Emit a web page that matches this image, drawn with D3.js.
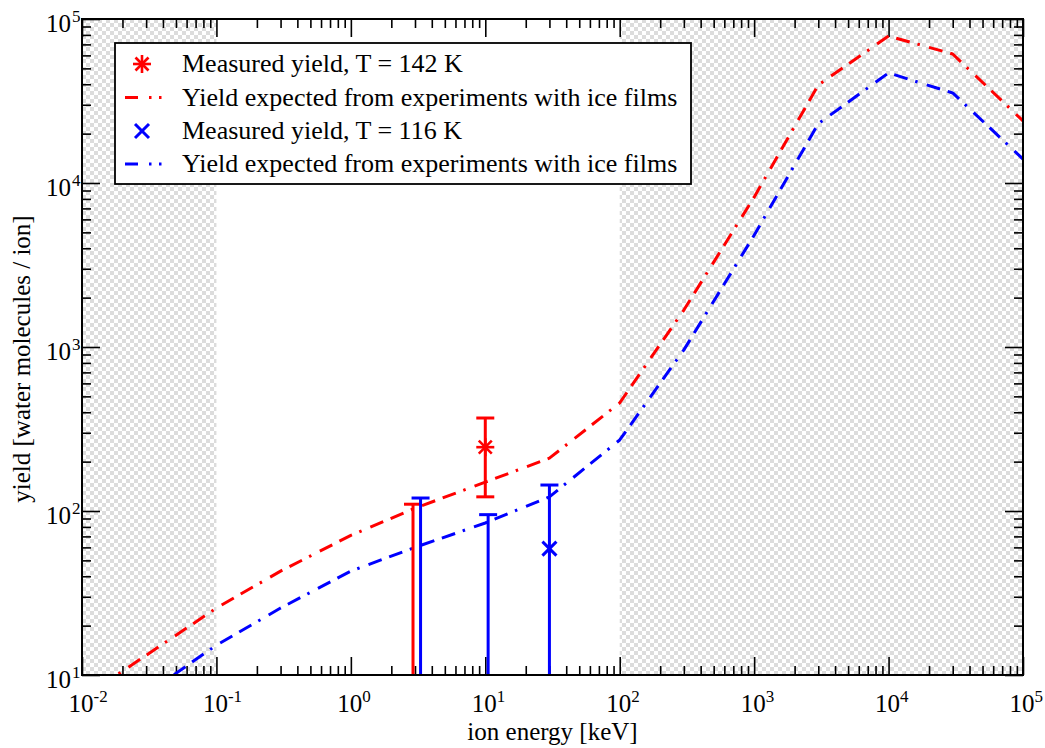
<!DOCTYPE html>
<html><head><meta charset="utf-8">
<script src="https://cdn.jsdelivr.net/npm/d3@7"></script>
<style>
body{margin:0;background:#fff}
text{font-family:"Liberation Serif","Times New Roman",serif;fill:#000}
</style>
</head><body>
<svg id="chart" width="1045" height="748"></svg>
<script>
// ---- data ----
const energy = [0.01, 0.1, 0.3, 1, 3, 10, 30, 100, 300, 1000, 3000, 10000, 30000, 100000];
const redExpected = [7.2, 25.6, 43, 71, 104, 150, 210, 456, 1680, 8200, 39600, 78700, 61200, 23900];
const blueExpected = [4.1, 15.2, 25.6, 43, 60, 84.5, 122, 271, 960, 4800, 23000, 46900, 35400, 14000];

const redMeasEnergy = [2.9, 10];
const redMeasYield = [5, 245];
const redMeasHigh = [110, 369];
const redMeasLow = [0.5, 122];

const blueMeasEnergy = [3.3, 10.5, 30];
const blueMeasYield = [5, 5, 59];
const blueMeasHigh = [120, 95, 144];
const blueMeasLow = [0.5, 0.5, 0.5];

const xTickExponents = [-2, -1, 0, 1, 2, 3, 4, 5];
const yTickExponents = [1, 2, 3, 4, 5];
const shadedRanges = [[0.01, 0.1], [100, 100000]];
const legendLabels = [
  "Measured yield, T = 142 K",
  "Yield expected from experiments with ice films",
  "Measured yield, T = 116 K",
  "Yield expected from experiments with ice films"
];
const xTitle = "ion energy [keV]";
const yTitle = "yield [water molecules / ion]";

// ---- layout ----
const L = 82, T = 19, R = 1023, B = 675;
const RED = "#ff0000", BLUE = "#0000ff";
const svg = d3.select("#chart");

const x = d3.scaleLog().domain([0.01, 100000]).range([L, R]);
const y = d3.scaleLog().domain([10, 100000]).range([B, T]);

const defs = svg.append("defs");
const pat = defs.append("pattern").attr("id", "checker")
  .attr("patternUnits", "userSpaceOnUse").attr("width", 8).attr("height", 8)
  .attr("x", L).attr("y", T);
pat.append("rect").attr("width", 8).attr("height", 8).attr("fill", "#ffffff");
pat.append("rect").attr("width", 4).attr("height", 4).attr("fill", "#dcdcdc");
pat.append("rect").attr("x", 4).attr("y", 4).attr("width", 4).attr("height", 4).attr("fill", "#dcdcdc");
defs.append("clipPath").attr("id", "plotclip").append("rect")
  .attr("x", L).attr("y", T).attr("width", R - L).attr("height", B - T);

// shaded regions
svg.append("g").selectAll("rect").data(shadedRanges).join("rect")
  .attr("x", d => x(d[0])).attr("y", T)
  .attr("width", d => x(d[1]) - x(d[0])).attr("height", B - T)
  .attr("fill", "url(#checker)");

// ticks
function decadeTicks(lo, hi) {
  const majors = [], minors = [];
  for (let e = lo; e <= hi; e++) {
    majors.push(Math.pow(10, e));
    if (e < hi) for (let m = 2; m <= 9; m++) minors.push(m * Math.pow(10, e));
  }
  return {majors, minors};
}
const xt = decadeTicks(-2, 5), yt = decadeTicks(1, 5);

function styleAxis(g) {
  g.select(".domain").remove();
  g.selectAll("line").attr("stroke", "#000").attr("stroke-width", 1.6);
}
const axes = svg.append("g");
[[d3.axisBottom, B, "translate(0," + B + ")"], [d3.axisTop, T, "translate(0," + T + ")"]].forEach(([fn, pos, tr]) => {
  axes.append("g").attr("transform", tr).call(fn(x).tickValues(xt.minors).tickSize(-9).tickFormat("")).call(styleAxis);
  axes.append("g").attr("transform", tr).call(fn(x).tickValues(xt.majors).tickSize(-18).tickFormat("")).call(styleAxis);
});
[[d3.axisLeft, "translate(" + L + ",0)"], [d3.axisRight, "translate(" + R + ",0)"]].forEach(([fn, tr]) => {
  axes.append("g").attr("transform", tr).call(fn(y).tickValues(yt.minors).tickSize(-9).tickFormat("")).call(styleAxis);
  axes.append("g").attr("transform", tr).call(fn(y).tickValues(yt.majors).tickSize(-18).tickFormat("")).call(styleAxis);
});

// curves
const dashPattern = "14,8,14,8,2.5,9.5";
const line = d3.line().x((d, i) => x(energy[i])).y(d => y(d));
const curves = svg.append("g").attr("clip-path", "url(#plotclip)");
[[redExpected, RED], [blueExpected, BLUE]].forEach(([vals, col]) => {
  curves.append("path").datum(vals).attr("d", line)
    .attr("fill", "none").attr("stroke", col).attr("stroke-width", 3)
    .attr("stroke-dasharray", dashPattern).attr("stroke-linejoin", "round");
});

// error bars + markers
const marks = svg.append("g").attr("clip-path", "url(#plotclip)");
function errorBars(E, Y, hi, lo, col) {
  const g = marks.append("g").attr("stroke", col).attr("stroke-width", 3).attr("fill", "none");
  E.forEach((e, i) => {
    const cx = x(e);
    g.append("line").attr("x1", cx).attr("x2", cx).attr("y1", y(hi[i])).attr("y2", y(lo[i]));
    g.append("line").attr("x1", cx - 9).attr("x2", cx + 9).attr("y1", y(hi[i])).attr("y2", y(hi[i]));
    if (lo[i] >= 10) g.append("line").attr("x1", cx - 9).attr("x2", cx + 9).attr("y1", y(lo[i])).attr("y2", y(lo[i]));
  });
}
errorBars(redMeasEnergy, redMeasYield, redMeasHigh, redMeasLow, RED);
errorBars(blueMeasEnergy, blueMeasYield, blueMeasHigh, blueMeasLow, BLUE);

function asterisk(g, cx, cy, col) {
  const a = g.append("g").attr("stroke", col).attr("stroke-width", 2.6);
  a.append("line").attr("x1", cx).attr("x2", cx).attr("y1", cy - 9).attr("y2", cy + 9);
  a.append("line").attr("x1", cx - 9).attr("x2", cx + 9).attr("y1", cy).attr("y2", cy);
  a.append("line").attr("x1", cx - 6.5).attr("x2", cx + 6.5).attr("y1", cy - 6.5).attr("y2", cy + 6.5);
  a.append("line").attr("x1", cx - 6.5).attr("x2", cx + 6.5).attr("y1", cy + 6.5).attr("y2", cy - 6.5);
}
function cross(g, cx, cy, col) {
  const a = g.append("g").attr("stroke", col).attr("stroke-width", 3);
  a.append("line").attr("x1", cx - 7).attr("x2", cx + 7).attr("y1", cy - 7).attr("y2", cy + 7);
  a.append("line").attr("x1", cx - 7).attr("x2", cx + 7).attr("y1", cy + 7).attr("y2", cy - 7);
}
redMeasEnergy.forEach((e, i) => asterisk(marks, x(e), y(redMeasYield[i]), RED));
blueMeasEnergy.forEach((e, i) => cross(marks, x(e), y(blueMeasYield[i]), BLUE));

// frame
svg.append("rect").attr("x", L).attr("y", T).attr("width", R - L).attr("height", B - T)
  .attr("fill", "none").attr("stroke", "#000").attr("stroke-width", 2);

// tick labels
const lab = svg.append("g");
xTickExponents.forEach(e => {
  const px = x(Math.pow(10, e));
  lab.append("text").attr("x", px - 1).attr("y", 712).attr("text-anchor", "middle")
    .attr("font-size", 25).text("10");
  lab.append("text").attr("x", px + 11.5).attr("y", 702).attr("text-anchor", "start")
    .attr("font-size", 17).text(String(e));
});
yTickExponents.forEach(e => {
  const py = y(Math.pow(10, e));
  lab.append("text").attr("x", 71).attr("y", py + 13).attr("text-anchor", "end")
    .attr("font-size", 25).text("10");
  lab.append("text").attr("x", 72).attr("y", py + 3).attr("text-anchor", "start")
    .attr("font-size", 17).text(String(e));
});

// axis titles
svg.append("text").attr("x", (L + R) / 2).attr("y", 740).attr("text-anchor", "middle")
  .attr("font-size", 25).text(xTitle);
svg.append("text").attr("transform", "translate(30," + ((T + B) / 2 + 12) + ") rotate(-90)")
  .attr("text-anchor", "middle").attr("font-size", 25).text(yTitle);

// legend
const lg = svg.append("g");
lg.append("rect").attr("x", 115).attr("y", 43).attr("width", 576).attr("height", 141)
  .attr("fill", "#fff").attr("stroke", "#000").attr("stroke-width", 1.8);
const rowY = [64, 97.5, 131, 164];
const rowCol = [RED, RED, BLUE, BLUE];
legendLabels.forEach((t, i) => {
  lg.append("text").attr("x", 182).attr("y", rowY[i] + 8).attr("font-size", 26).text(t);
});
asterisk(lg, 142, rowY[0], RED);
cross(lg, 142, rowY[2], BLUE);
[1, 3].forEach(i => {
  lg.append("line").attr("x1", 125).attr("x2", 163).attr("y1", rowY[i]).attr("y2", rowY[i])
    .attr("stroke", rowCol[i]).attr("stroke-width", 3).attr("stroke-dasharray", "13,11,2.5,7.5,2.5,100");
});
</script>
</body></html>
